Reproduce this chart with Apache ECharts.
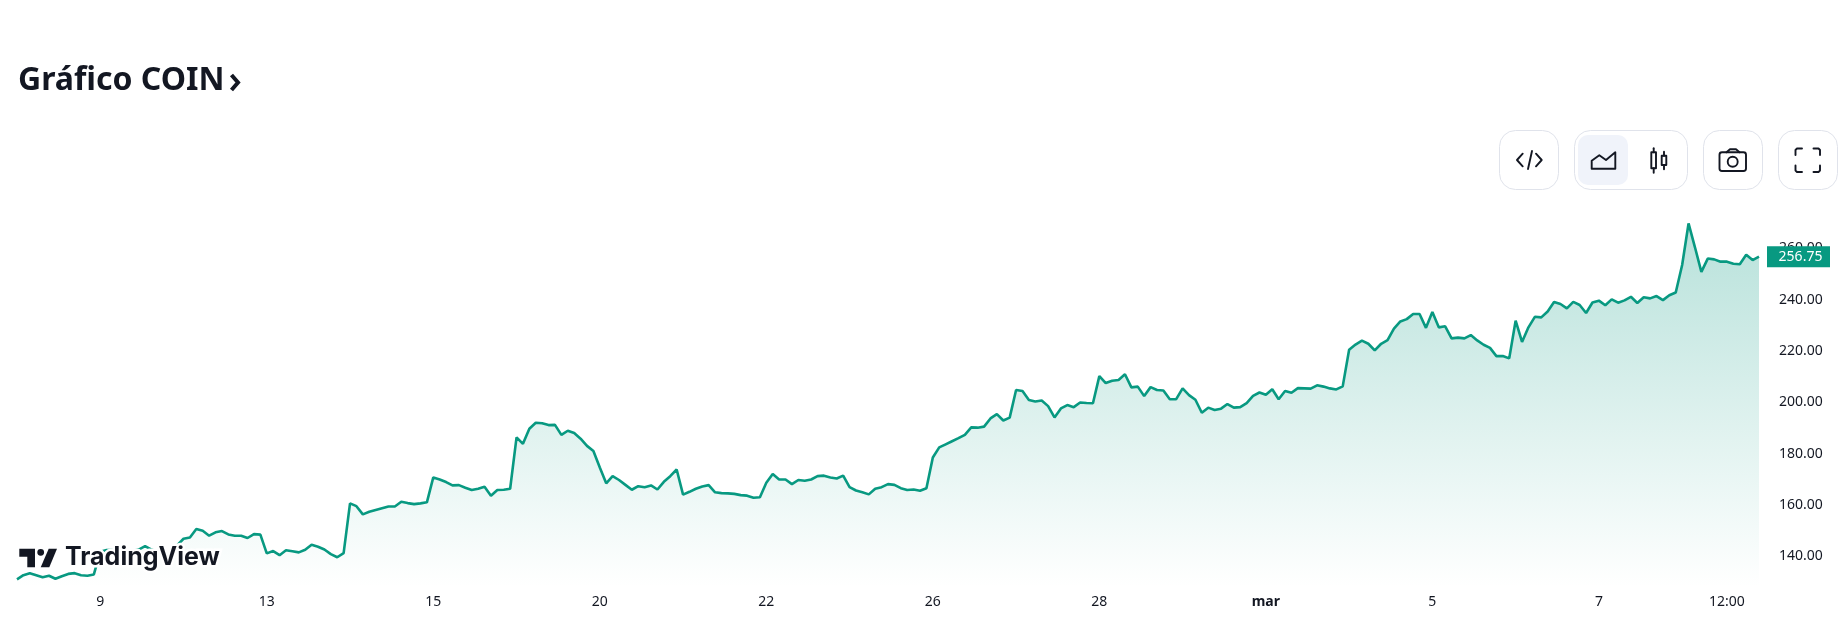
<!DOCTYPE html>
<html>
<head>
<meta charset="utf-8">
<title>Gráfico COIN</title>
<script src="https://cdn.jsdelivr.net/npm/echarts@6/dist/echarts.min.js"></script>
<style>
  html, body { margin: 0; padding: 0; background: #fff; }
  #main { width: 1842px; height: 643px; }
</style>
</head>
<body>
<div id="main"></div>
<script>
// precios, uno por vela
const prices = [
  131.0, 132.6, 133.4, 132.6, 131.8, 132.4, 131.2, 132.2, 133.1, 133.4, 132.6, 132.4, 132.9,
  141.7, 142.4, 142.4, 142.0, 141.6, 142.0, 142.6, 143.9, 142.6, 141.6, 141.1, 140.4, 144.2,
  146.8, 147.3, 150.6, 149.9, 148.0, 149.3, 149.8, 148.5, 148.0, 148.0, 147.1, 148.6, 148.4,
  141.1, 142.0, 140.4, 142.3, 141.9, 141.5, 142.5, 144.5, 143.7, 142.6, 140.8, 139.6, 141.2,
  160.6, 159.5, 156.3, 157.3, 158.0, 158.7, 159.4, 159.4, 161.2, 160.7, 160.3, 160.6, 161.0,
  170.7, 169.9, 168.9, 167.6, 167.7, 166.7, 165.8, 166.3, 167.1, 163.6, 165.8, 165.9, 166.3,
  186.3, 183.8, 189.7, 192.0, 191.8, 191.1, 191.2, 187.3, 188.9, 188.0, 185.8, 183.0, 181.0,
  174.6, 168.4, 171.2, 169.7, 167.8, 165.9, 167.3, 166.9, 167.6, 166.0, 169.0, 171.2, 173.8,
  164.0, 165.1, 166.3, 167.2, 167.7, 164.9, 164.6, 164.5, 164.3, 163.8, 163.6, 162.8, 163.0,
  168.6, 172.0, 169.9, 169.9, 168.1, 169.7, 169.4, 169.9, 171.2, 171.4, 170.7, 170.3, 171.4,
  166.9, 165.6, 164.9, 164.1, 166.3, 166.9, 168.1, 167.8, 166.5, 165.8, 166.0, 165.5, 166.5,
  178.5, 182.4, 183.6, 184.8, 186.0, 187.3, 190.2, 190.1, 190.5, 193.7, 195.4, 192.9, 194.0,
  204.8, 204.4, 200.9, 200.3, 200.7, 198.5, 194.1, 197.6, 198.9, 198.1, 199.9, 199.7, 199.6,
  210.2, 207.5, 208.4, 208.7, 210.9, 205.8, 206.1, 202.4, 205.9, 204.8, 204.6, 201.2, 201.2,
  205.4, 202.8, 201.0, 195.9, 197.9, 197.0, 197.5, 199.3, 197.9, 198.1, 199.7, 202.5, 203.8,
  202.9, 205.1, 201.2, 204.4, 203.7, 205.5, 205.4, 205.3, 206.6, 206.1, 205.4, 205.0, 206.2,
  220.5, 222.5, 224.0, 222.8, 220.2, 222.8, 224.2, 228.7, 231.5, 232.4, 234.4, 234.4, 229.0,
  235.2, 229.2, 229.6, 224.9, 225.2, 224.9, 226.2, 224.1, 222.4, 221.2, 218.0, 218.0, 217.1,
  231.8, 223.5, 229.2, 233.3, 233.1, 235.4, 239.1, 238.3, 236.6, 239.1, 237.9, 234.8, 238.9,
  239.6, 237.8, 240.1, 238.8, 239.7, 241.1, 238.7, 240.9, 240.5, 241.4, 239.8, 241.7, 242.8,
  253.5, 269.7, 260.4, 250.8, 256.0, 255.7, 254.8, 254.8, 254.0, 253.8, 257.5, 255.4, 256.75
];

// etiquetas del eje de tiempo y la vela donde cae cada una
const tickIndex = [13, 39, 65, 91, 117, 143, 169, 195, 221, 247, 267];
const tickLabels = ['9', '13', '15', '20', '22', '26', '28', 'mar', '5', '7', '12:00'];
const priceTicks = [140, 160, 180, 200, 220, 240, 260];

const categories = prices.map((_, i) => {
  const t = tickIndex.indexOf(i);
  return t < 0 ? String(i) : tickLabels[t];
});
const lastPrice = prices[prices.length - 1];

const ink = '#131722';
const border = '#e0e3eb';
const green = '#089981';
const uiFont = '"Noto Sans", sans-serif';

const chart = echarts.init(document.getElementById('main'));

// contorno de un boton de la barra
const btn = (x1, x2) => ({
  type: 'rect',
  shape: { x: x1 + 0.5, y: 130.5, width: x2 - x1, height: 59, r: 16 },
  style: { fill: '#fff', stroke: border, lineWidth: 1 }
});
const stroke = { fill: 'none', stroke: ink, lineWidth: 1.9, lineCap: 'round', lineJoin: 'round' };
const line = (points) => ({ type: 'polyline', shape: { points }, style: stroke, z: 2 });
const box = (x, y, width, height, r) => ({ type: 'rect', shape: { x, y, width, height, r }, style: stroke, z: 2 });

const graphics = [
  btn(1499, 1558),
  btn(1574, 1687),
  btn(1703, 1762),
  btn(1778, 1837),
  { type: 'rect', shape: { x: 1578, y: 135, width: 50, height: 50, r: 10 }, style: { fill: '#f0f3fa' }, z: 1 },
  // </>
  line([[1522.7, 153.7], [1517, 160], [1522.7, 166.3]]),
  line([[1528, 169], [1532, 151]]),
  line([[1536, 153.7], [1541.7, 160], [1536, 166.3]]),
  // area
  line([[1591.7, 168.7], [1591.7, 160.7], [1599.3, 155.3], [1606, 160], [1615.3, 152.3], [1615.3, 168.7], [1591.7, 168.7]]),
  // velas
  line([[1653.7, 148.3], [1653.7, 152.3]]),
  line([[1653.7, 168.3], [1653.7, 172.7]]),
  box(1651.3, 152.3, 4.7, 16, 0),
  line([[1664, 151.7], [1664, 155.7]]),
  line([[1664, 165], [1664, 169.3]]),
  box(1661.7, 155.7, 4.6, 9.3, 0),
  // camara
  box(1719.5, 152.3, 26.5, 18.7, 2.5),
  line([[1726.5, 152.3], [1730, 149.3], [1736, 149.3], [1739.5, 152.3]]),
  { type: 'circle', shape: { cx: 1732.7, cy: 161.7, r: 5 }, style: stroke, z: 2 },
  // pantalla completa
  line([[1795.5, 155], [1795.5, 150], [1797, 148.5], [1802, 148.5]]),
  line([[1813.5, 148.5], [1818.5, 148.5], [1820, 150], [1820, 155]]),
  line([[1820, 165.5], [1820, 170.5], [1818.5, 172], [1813.5, 172]]),
  line([[1802, 172], [1797, 172], [1795.5, 170.5], [1795.5, 165.5]]),
  // flecha del titulo
  {
    type: 'polyline',
    shape: { points: [[231.5, 75], [238, 82.5], [231.5, 90]] },
    style: { fill: 'none', stroke: ink, lineWidth: 4 }
  },
  // logo de TradingView, con halo blanco sobre la linea
  {
    type: 'polygon',
    shape: { points: [[19.3, 548.7], [35, 548.7], [35, 567.3], [27.3, 567.3], [27.3, 556.7], [19.3, 556.7]] },
    style: { fill: ink, stroke: '#fff', lineWidth: 4, strokeFirst: true },
    z: 10
  },
  {
    type: 'polygon',
    shape: { points: [[48.7, 548.7], [57, 548.7], [49.3, 567.3], [40.7, 567.3]] },
    style: { fill: ink, stroke: '#fff', lineWidth: 4, strokeFirst: true },
    z: 10
  },
  { type: 'circle', shape: { cx: 40.7, cy: 552.3, r: 3.4 }, style: { fill: ink }, z: 10 },
  {
    type: 'text',
    x: 65,
    y: 545,
    style: {
      text: 'TradingView',
      font: '700 25px Inter, sans-serif',
      fill: ink,
      stroke: '#fff',
      lineWidth: 5
    },
    z: 10
  }
];

chart.setOption({
  animation: false,
  backgroundColor: '#fff',
  title: {
    text: 'Gráfico COIN',
    left: 13,
    top: 60,
    textStyle: { color: ink, fontFamily: uiFont, fontSize: 32, fontWeight: 'bold' }
  },
  grid: { left: 17, right: 83, top: 197, height: 390 },
  xAxis: {
    type: 'category',
    data: categories,
    boundaryGap: false,
    axisLine: { show: false },
    axisTick: { show: false },
    axisLabel: {
      interval: (i) => tickIndex.includes(i),
      margin: 8,
      color: ink,
      fontFamily: uiFont,
      fontSize: 14,
      formatter: (v) => (v === 'mar' ? '{bold|mar}' : v),
      rich: { bold: { fontWeight: 'bold', fontFamily: uiFont, fontSize: 14, color: ink } }
    }
  },
  yAxis: {
    type: 'value',
    position: 'right',
    min: 128,
    max: 280,
    splitLine: { show: false },
    axisLine: { show: false },
    axisTick: { show: false },
    axisLabel: {
      customValues: priceTicks,
      margin: 20,
      color: ink,
      fontFamily: uiFont,
      fontSize: 14,
      formatter: (v) => v.toFixed(2)
    }
  },
  series: [
    {
      type: 'line',
      data: prices,
      symbol: 'none',
      clip: false,
      lineStyle: { color: green, width: 2.6 },
      areaStyle: {
        origin: 'start',
        opacity: 1,
        color: new echarts.graphic.LinearGradient(0, 0, 0, 1, [
          { offset: 0, color: 'rgba(8,153,129,0.29)' },
          { offset: 1, color: 'rgba(8,153,129,0)' }
        ])
      },
      // etiqueta del ultimo precio
      markPoint: {
        silent: true,
        symbol: 'rect',
        symbolSize: [63, 21],
        symbolOffset: [39.5, 0],
        itemStyle: { color: green },
        label: {
          show: true,
          color: '#fff',
          fontFamily: uiFont,
          fontSize: 14,
          offset: [2, 0],
          formatter: (p) => p.value.toFixed(2)
        },
        data: [{ coord: [prices.length - 1, lastPrice], value: lastPrice }]
      }
    }
  ],
  graphic: graphics
});

window.addEventListener('resize', () => chart.resize());
</script>
</body>
</html>
